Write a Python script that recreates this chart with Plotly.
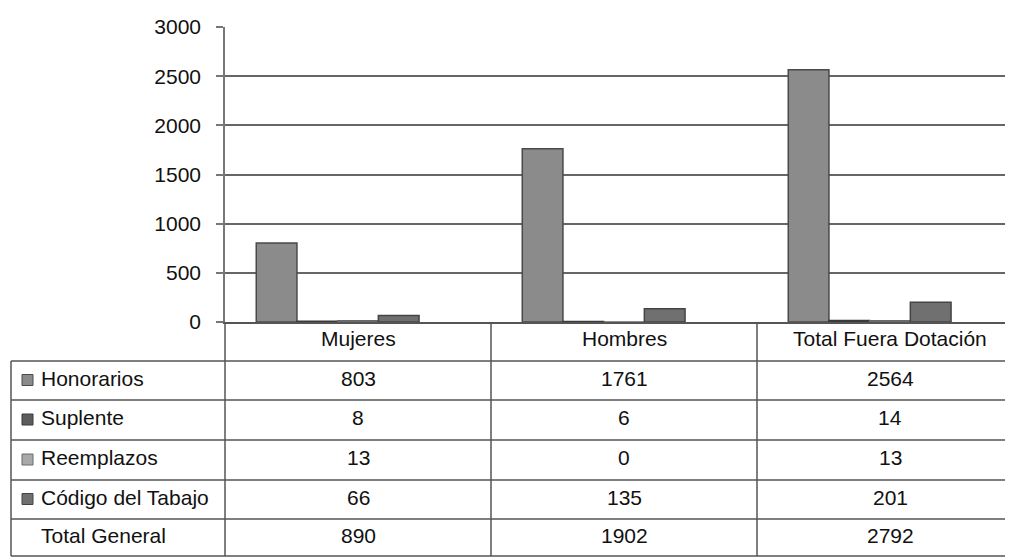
import plotly.graph_objects as go

categories = ["Mujeres", "Hombres", "Total Fuera Dotación"]
series_names = ["Honorarios", "Suplente", "Reemplazos", "Código del Tabajo", "Total General"]
honorarios = [803, 1761, 2564]
suplente = [8, 6, 14]
reemplazos = [13, 0, 13]
codigo_tabajo = [66, 135, 201]
total_general = [890, 1902, 2792]
y_ticks = [0, 500, 1000, 1500, 2000, 2500, 3000]

series_values = [honorarios, suplente, reemplazos, codigo_tabajo, total_general]
fills = ["#8b8b8b", "#5c5c5c", "#a9a9a9", "#707070", "rgba(0,0,0,0)"]
edges = ["#4a4a4a", "#3a3a3a", "#6a6a6a", "#444444", "rgba(0,0,0,0)"]

# page shows the figure 8px in from the top-left corner
OFF = 8
W, H = 1013 - OFF, 558 - OFF
L, R, T, B = 225, 1013, 27, 322          # plot area, screen pixels
CAT_W = 266                              # one category column, pixels
FONT = "Liberation Sans, Arial, sans-serif"
FS = 21
INK = "#111111"
RULE = "#555555"
TXT_SHIFT = -11


def px(x):
    return (x - L) / (R - L)


def py(y):
    return (B - y) / (B - T)


fig = go.Figure()
for name, vals, fc, ec in zip(series_names, series_values, fills, edges):
    fig.add_trace(go.Bar(
        x=categories, y=vals, name=name,
        marker=dict(color=fc, line=dict(color=ec, width=1.5)),
        hoverinfo="skip" if name == "Total General" else None,
        showlegend=False))

# data table under the plot
row_lines = [361, 400, 440, 480, 519, 556]
row_centers = [(a + b) / 2 for a, b in zip(row_lines[:-1], row_lines[1:])]
shapes = []
for yl in row_lines:
    shapes.append(dict(type="line", xref="paper", yref="paper",
                       x0=px(11), x1=1, y0=py(yl), y1=py(yl),
                       line=dict(color=RULE, width=1.5)))
shapes.append(dict(type="line", xref="paper", yref="paper",
                   x0=px(11), x1=px(11), y0=py(361), y1=py(556),
                   line=dict(color=RULE, width=1.5)))
shapes.append(dict(type="line", xref="paper", yref="paper",
                   x0=0, x1=0, y0=py(322), y1=py(556),
                   line=dict(color=RULE, width=1.5)))
for xb in [0.5, 1.5]:
    shapes.append(dict(type="line", xref="x", yref="paper",
                       x0=xb, x1=xb, y0=py(322), y1=py(556),
                       line=dict(color=RULE, width=1.5)))

annotations = []
for cat in categories:
    annotations.append(dict(x=cat, xref="x", y=py(341), yref="paper",
                            text=cat, showarrow=False, yshift=TXT_SHIFT,
                            font=dict(family=FONT, size=FS, color=INK)))
for i, (name, vals) in enumerate(zip(series_names, series_values)):
    yc = row_centers[i]
    if fills[i].startswith("#"):
        shapes.append(dict(type="rect", xref="paper", yref="paper",
                           x0=px(22), x1=px(33), y0=py(yc - 6), y1=py(yc + 5),
                           fillcolor=fills[i], line=dict(color=edges[i], width=1)))
    annotations.append(dict(x=px(39), xref="paper", y=py(yc), yref="paper",
                            text=name, showarrow=False, xanchor="left",
                            yshift=TXT_SHIFT,
                            font=dict(family=FONT, size=FS, color=INK)))
    for cat, v in zip(categories, vals):
        annotations.append(dict(x=cat, xref="x", y=py(yc), yref="paper",
                                text=str(v), showarrow=False, yshift=TXT_SHIFT,
                                font=dict(family=FONT, size=FS, color=INK)))

fig.update_layout(
    width=W, height=H,
    margin=dict(l=L - OFF, r=W - (R - OFF), t=T - OFF, b=H - (B - OFF), pad=0),
    paper_bgcolor="white", plot_bgcolor="white",
    barmode="group", bargap=0.235, bargroupgap=0,
    shapes=shapes, annotations=annotations,
    font=dict(family=FONT, size=FS, color=INK),
)
fig.update_xaxes(range=[-0.5, -0.5 + (R - L) / CAT_W], showticklabels=False,
                 showline=True, linecolor=RULE, linewidth=1.5, ticks="",
                 showgrid=False, automargin=False)
fig.update_yaxes(range=[0, 3000], tickvals=y_ticks, showgrid=True,
                 gridcolor="#666666", gridwidth=1.5, zeroline=False,
                 showline=True, linecolor="#777777", linewidth=1.5,
                 ticks="outside", ticklen=7, tickcolor="#777777", tickwidth=1.5,
                 ticklabelstandoff=11, automargin=False,
                 tickfont=dict(family=FONT, size=FS, color=INK))

fig.write_html("out.html")
